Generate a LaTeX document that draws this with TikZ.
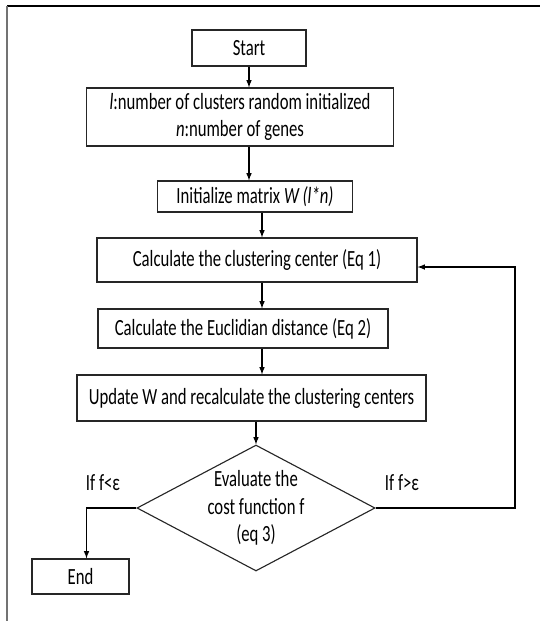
\documentclass[tikz,border=0pt]{standalone}
\usepackage{fontspec}
\setmainfont{Carlito}[FakeStretch=0.72]
\usetikzlibrary{arrows,shapes,backgrounds,fit}

\begin{document}
\begin{tikzpicture}[x=0.025cm,y=-0.025cm]
      \tikzstyle{step_box}=[draw=black!85, line width=0.8pt, inner sep=0pt, align=center, font=\fontsize{16.5}{19.5}\selectfont]
      \tikzstyle{decision}=[step_box, diamond, aspect=1.89, minimum width=5.775cm, minimum height=3.05cm]
      \tikzstyle{branch_text}=[font=\fontsize{16.5}{19.5}\selectfont]
      \tikzstyle{arrow}=[-latex, line width=0.8pt]

      \useasboundingbox (0,0) rectangle (540,621);
      \draw[line width=0.8pt] (7,6) -- (540,6);
      \draw[line width=0.8pt, black!55] (7,6) -- (7,621);

      \node (start) [step_box, minimum width=2.85cm, minimum height=0.9cm] at (249,48) {Start};
      \node (params) [step_box, minimum width=7.675cm, minimum height=1.45cm] at (240,117)
        {\textit{l}:number of clusters random initialized\\\textit{n}:number of genes};
      \node (init) [step_box, minimum width=4.875cm, minimum height=0.775cm] at (255,196.5) {Initialize matrix \textit{W (l*n)}};
      \node (calc) [step_box, minimum width=8cm, minimum height=1.1cm] at (257,260) {Calculate the clustering center (Eq 1)};
      \node (eucl) [step_box, minimum width=7.25cm, minimum height=0.975cm] at (243,328.5) {Calculate the Euclidian distance (Eq 2)};
      \node (update) [step_box, minimum width=8.725cm, minimum height=1.15cm] at (251.5,398) {Update W and recalculate the clustering centers};
      \node (dec) [decision] at (256,508) {Evaluate the\\cost function f\\(eq 3)};
      \node (end) [step_box, minimum width=2.425cm, minimum height=0.875cm] at (80.5,576.5) {End};

      \node (lt_text) [branch_text] at (103,483) {If f<ε};
      \node (gt_text) [branch_text] at (402,483) {If f>ε};

      \coordinate (spine) at (262,0);
      \coordinate (loop_corner) at (515,508);

      \draw[arrow] (start.south) -- (start.south |- params.north);
      \draw[arrow] (params.south -| start) -- (init.north -| start);
      \draw[arrow] (init.south -| spine) -- (calc.north -| spine);
      \draw[arrow] (calc.south -| spine) -- (eucl.north -| spine);
      \draw[arrow] (eucl.south -| spine) -- (update.north -| spine);
      \draw[arrow] (update.south -| dec) -- (dec.north);
      \draw[arrow] (dec.east) -- (loop_corner) |- ([yshift=-0.175cm]calc.east);
      \draw[arrow] (dec.west) -| ([xshift=0.15cm]end.north);
\end{tikzpicture}
\end{document}
